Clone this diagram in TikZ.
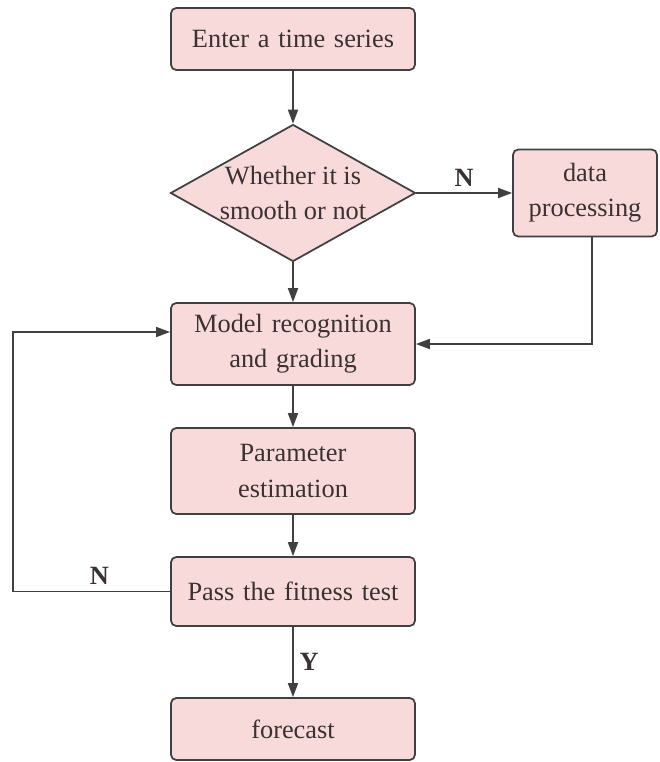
\documentclass[tikz,border=0pt]{standalone}
\usepackage{fontspec}
\setmainfont{Liberation Serif}
\usepackage{xcolor}
\usepackage{tikz}
\usetikzlibrary{shapes, arrows.meta, positioning, calc}

\definecolor{boxfill}{HTML}{F9DADA}
\definecolor{boxline}{HTML}{404040}
\definecolor{txtcol}{HTML}{3A3232}

\begin{document}
\begin{tikzpicture}[
  font=\fontsize{15}{20}\selectfont,
  text=txtcol,
  stepbox/.style = {draw=boxline, rounded corners=3pt, text width=4.5cm,
                    inner xsep=0.19cm, inner ysep=0pt, align=center,
                    fill=boxfill, line width=1pt},
  sidebox/.style = {draw=boxline, rounded corners=3pt, text width=2.5cm,
                    inner xsep=0.19cm, inner ysep=0pt, align=center,
                    fill=boxfill, line width=1pt},
  decide/.style  = {draw=boxline, diamond, aspect=1.79, inner sep=-3pt,
                    minimum width=4.9cm, minimum height=2.74cm, align=center,
                    fill=boxfill, line width=1pt},
  arr/.style     = {-{Triangle[length=0.28cm, width=0.2cm]}, draw=boxline,
                    line width=1pt},
  yn/.style      = {font=\fontsize{15}{20}\selectfont\bfseries},
]
\useasboundingbox (0,0) rectangle (13.18,-15.24);

%% Input
\node[stepbox, minimum height=1.24cm] (enter) at (5.86, -0.78)
     {Enter a time series};

%% Stationarity check
\node[decide] (smooth) at (5.86, -3.86)
     {Whether it is\\smooth or not};
\draw[arr] (enter.south) -- (smooth.north);

\node[sidebox, minimum height=1.74cm] (proc) at (11.70, -3.86)
     {data\\processing};
\draw[arr] (smooth.east) -- node[yn, above] {N} (proc.west);

%% Model
\node[stepbox, minimum height=1.64cm] (model) at (5.86, -6.88)
     {Model recognition\\and grading};
\draw[arr] (smooth.south) -- (model.north);
\draw[arr] ([xshift=1.4mm]proc.south) |- (model.east);

\node[stepbox, minimum height=1.72cm] (param) at (5.86, -9.42)
     {Parameter\\estimation};
\draw[arr] (model.south) -- (param.north);

%% Test
\node[stepbox, minimum height=1.38cm] (fit) at (5.86, -11.83)
     {Pass the fitness test};
\draw[arr] (param.south) -- (fit.north);
\draw[arr] (fit.west) -- node[yn, above, pos=0.45] {N} ++(-3.14,0)
           |- ([yshift=2.4mm]model.west);

%% Output
\node[stepbox, minimum height=1.24cm] (fore) at (5.86, -14.58)
     {forecast};
\draw[arr] (fit.south) -- node[yn, right] {Y} (fore.north);

\end{tikzpicture}
\end{document}
